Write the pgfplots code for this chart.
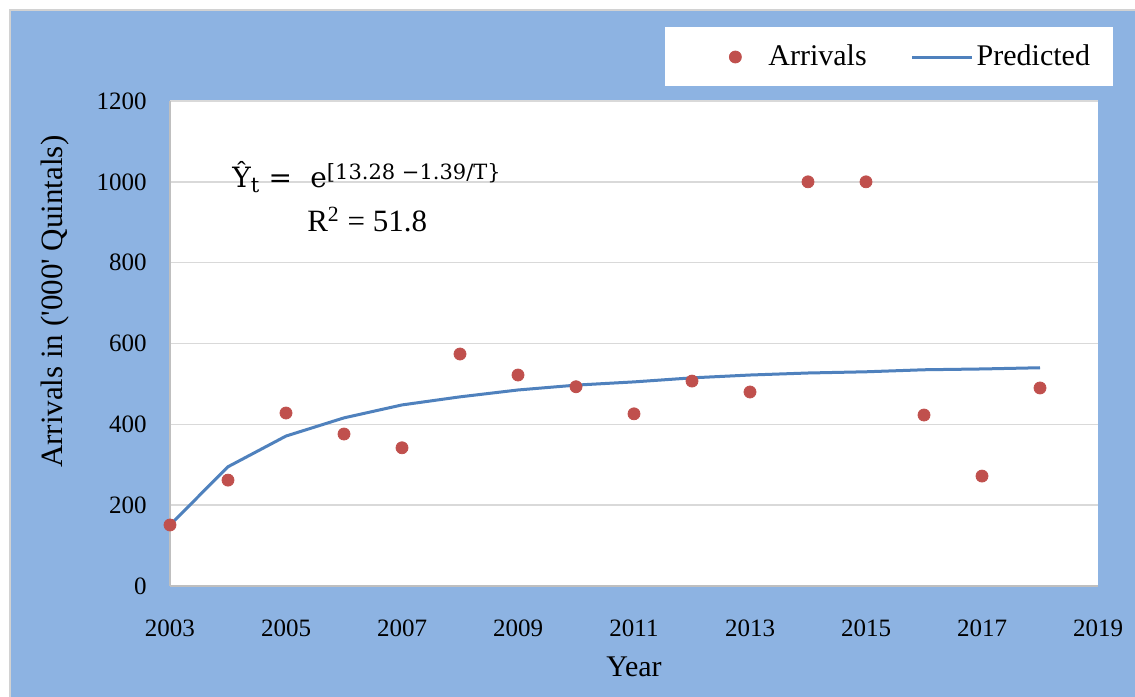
\documentclass[border=0pt]{standalone}
\usepackage{pgfplots}
\pgfplotsset{compat=1.18}
\usepackage{fontspec}
\setmainfont{Liberation Serif}
\newfontfamily\eqfont{DejaVu Serif}
\definecolor{bgblue}{HTML}{8DB3E2}
\definecolor{ptred}{HTML}{C0504D}
\definecolor{lnblue}{HTML}{4F81BD}
\definecolor{gridgray}{HTML}{D9D9D9}
\definecolor{axgray}{HTML}{BFBFBF}
\begin{document}
\begin{tikzpicture}
\useasboundingbox (-85pt,-55pt) rectangle (482.5pt,293pt);
\fill[white] (-85pt,-55pt) rectangle (482.5pt,293pt);
\filldraw[fill=bgblue, draw=gray!35, line width=1pt] (-80pt,-60pt) rectangle (490pt,288pt);
\fill[white] (247.5pt,250pt) rectangle (471.5pt,279.5pt);
\begin{axis}[
  scale only axis, width=464pt, height=242.5pt,
  xmin=2003, xmax=2019, ymin=0, ymax=1200,
  xtick={2003,2005,...,2019}, ytick={0,200,...,1200},
  /pgf/number format/1000 sep={},
  /pgf/number format/assume math mode=true,
  axis x line*=bottom, axis y line*=left,
  axis line style={axgray, line width=0.75pt, -},
  major tick length=0pt,
  ymajorgrids, grid style={gridgray, line width=0.75pt},
  axis background/.style={fill=white},
  tick label style={font=\fontsize{12.5}{14}\selectfont},
  xticklabel style={anchor=center, yshift=-21pt},
  yticklabel style={anchor=east, inner sep=0pt, xshift=-11.5pt},
  xlabel={Year}, ylabel={Arrivals in (\textquotesingle000\textquotesingle\ Quintals)},
  xlabel style={font=\fontsize{15}{18}\selectfont, at={(axis description cs:0.5,-0.167)}, anchor=center},
  ylabel style={font=\fontsize{15.5}{18}\selectfont, at={(axis description cs:-0.124,0.586)}, anchor=center, rotate=0},
  legend style={at={(axis description cs:0.5905,1.0907)}, anchor=west, draw=none, fill=none, inner sep=0pt,
    font=\fontsize{15}{18}\selectfont, legend columns=2,
    /tikz/every even column/.append style={column sep=20.5pt},
    nodes={inner xsep=1.5pt}},
]
\addplot[only marks, mark=*, mark size=3pt, color=ptred,
  legend image code/.code={\draw plot[only marks, mark=*, mark size=3pt] coordinates {(8.5pt,0pt)}; \path[draw=none] (0pt,0pt) -- (23.5pt,0pt);}]
  coordinates {
  (2003,151) (2004,262) (2005,428) (2006,376) (2007,342) (2008,574) (2009,522) (2010,493)
  (2011,426) (2012,507) (2013,480) (2014,1000) (2015,1000) (2016,423) (2017,272) (2018,490)};
\addlegendentry{Arrivals}
\addplot[color=lnblue, line width=1.5pt, no marks,
  legend image code/.code={\draw[lnblue, line width=1.5pt] (0pt,0pt) -- (30pt,0pt);}]
  coordinates {
  (2003,151) (2004,295) (2005,371) (2006,416) (2007,448) (2008,468) (2009,485) (2010,497)
  (2011,505) (2012,515) (2013,522) (2014,527) (2015,530) (2016,535) (2017,537) (2018,540)};
\addlegendentry{Predicted}
\node[anchor=base west, inner sep=0pt] at (axis cs:2004.07,987) {\eqfont\fontsize{14}{16}\selectfont Ŷ\raisebox{-0.4ex}{\fontsize{10.5}{12}\selectfont t}\,\,=\,\, e\raisebox{4pt}{\fontsize{10.5}{12}\selectfont [13.28 −1.39/T\}}};
\node[anchor=base west, inner sep=0pt] at (axis cs:2005.36,876) {\fontsize{15.5}{18}\selectfont R\textsuperscript{2} = 51.8};
\end{axis}
\end{tikzpicture}
\end{document}
